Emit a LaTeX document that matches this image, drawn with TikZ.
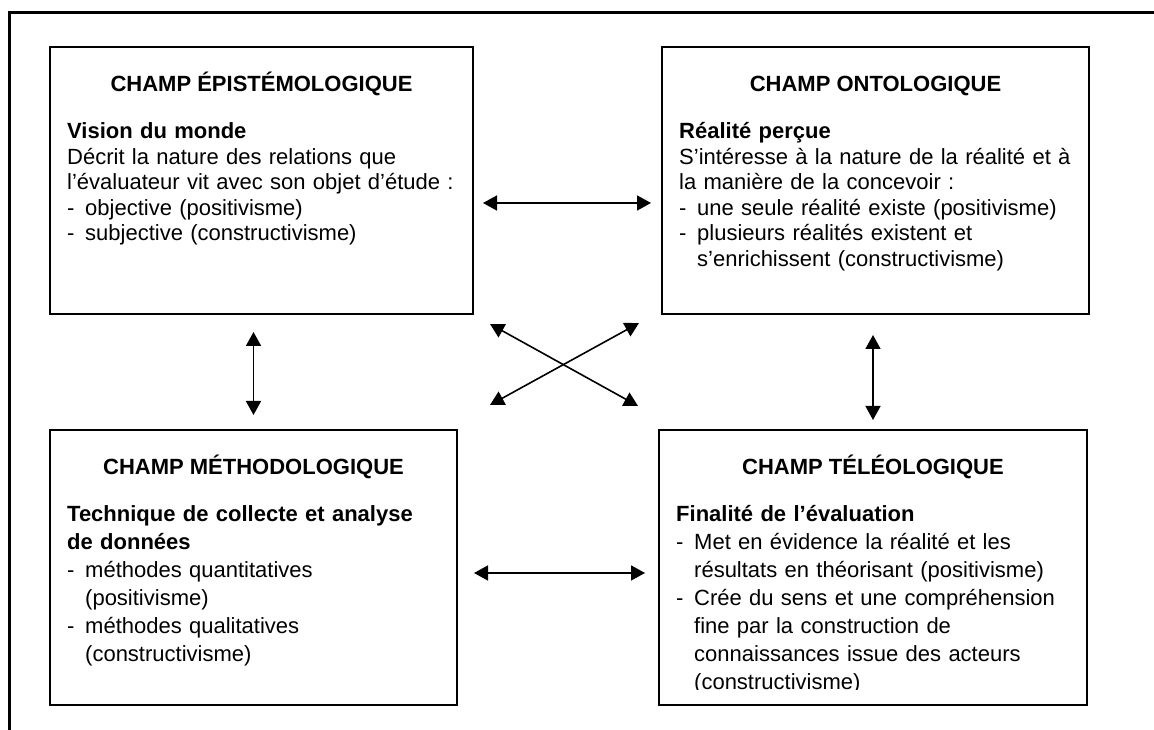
\documentclass[tikz,border=0pt]{standalone}
\usepackage{fontspec}
\setmainfont{Liberation Sans}
\usepackage{tikz}
\usetikzlibrary{arrows.meta, positioning}

\newcommand{\tiret}{\makebox[18pt][l]{-}}
\newcommand{\suite}{\hspace*{18pt}}

\begin{document}
\begin{tikzpicture}[
  x=1pt, y=1pt,
  champ/.style={rectangle, draw, line width=2pt, inner sep=0pt},
  titre/.style={inner sep=0pt, anchor=base, font=\fontsize{22}{25}\selectfont\bfseries},
  corps/.style={inner sep=0pt, anchor=base west, align=left, text width=400pt, font=\fontsize{22}{#1}\selectfont},
  arrow/.style={{Triangle[length=14pt, width=15pt]}-{Triangle[length=14pt, width=15pt]}, line width=1.6pt}
]
  \useasboundingbox (0,0) rectangle (1154,730);
  % cadre
  \draw[line width=3pt] (9,0) -- (9,717) -- (1154,717);

  % les quatre champs
  \node[champ, minimum width=423pt, minimum height=267pt] (epi) at (261.5,549.5) {};
  \node[champ, minimum width=427pt, minimum height=267pt] (onto) at (875.5,549.5) {};
  \node[champ, minimum width=407pt, minimum height=275pt] (meth) at (253.5,162.5) {};
  \node[champ, minimum width=428pt, minimum height=275pt] (tele) at (873,162.5) {};

  \node[titre] (epiT) at ([yshift=-46pt]epi.north) {CHAMP ÉPISTÉMOLOGIQUE};
  \node[corps=25.5pt] (epiC) at ([shift={(18pt,-93pt)}]epi.north west) {\textbf{Vision du monde}\\
    Décrit la nature des relations que\\
    l’évaluateur vit avec son objet d’étude :\\
    \tiret objective (positivisme)\\
    \tiret subjective (constructivisme)};

  \node[titre] (ontoT) at ([yshift=-46pt]onto.north) {CHAMP ONTOLOGIQUE};
  \node[corps=25.5pt] (ontoC) at ([shift={(18pt,-93pt)}]onto.north west) {\textbf{Réalité perçue}\\
    S’intéresse à la nature de la réalité et à\\
    la manière de la concevoir :\\
    \tiret une seule réalité existe (positivisme)\\
    \tiret plusieurs réalités existent et\\
    \suite s’enrichissent (constructivisme)};

  \node[titre] (methT) at ([yshift=-46pt]meth.north) {CHAMP MÉTHODOLOGIQUE};
  \node[corps=28pt] (methC) at ([shift={(18pt,-93pt)}]meth.north west) {\textbf{Technique de collecte et analyse}\\
    \textbf{de données}\\
    \tiret méthodes quantitatives\\
    \suite (positivisme)\\
    \tiret méthodes qualitatives\\
    \suite (constructivisme)};

  \node[titre] (teleT) at ([yshift=-46pt]tele.north) {CHAMP TÉLÉOLOGIQUE};
  \begin{scope}
    \clip (tele.north west) rectangle ([yshift=16pt]tele.south east);
    \node[corps=28pt] (teleC) at ([shift={(18pt,-93pt)}]tele.north west) {\textbf{Finalité de l’évaluation}\\
      \tiret Met en évidence la réalité et les\\
      \suite résultats en théorisant (positivisme)\\
      \tiret Crée du sens et une compréhension\\
      \suite fine par la construction de\\
      \suite connaissances issue des acteurs\\
      \suite (constructivisme)};
  \end{scope}

  % relations
  \draw[arrow, shorten <=9pt, shorten >=10pt] ([yshift=112pt]epi.south east) -- ([yshift=112pt]onto.south west);
  \draw[arrow, shorten <=16pt, shorten >=13pt] ([yshift=-144pt]meth.north east) -- ([yshift=-144pt]tele.north west);
  \draw[arrow, shorten <=14pt, shorten >=17pt] (meth.north) -- (meth.north |- epi.south);
  \draw[arrow, shorten <=9pt, shorten >=20pt] (tele.north) -- (tele.north |- onto.south);
  \draw[arrow] ([shift={(16pt,-9pt)}]epi.south east) -- ([shift={(-20pt,23pt)}]tele.north west);
  \draw[arrow] ([shift={(32pt,24pt)}]meth.north east) -- ([shift={(-22pt,-8pt)}]onto.south west);
\end{tikzpicture}
\end{document}
